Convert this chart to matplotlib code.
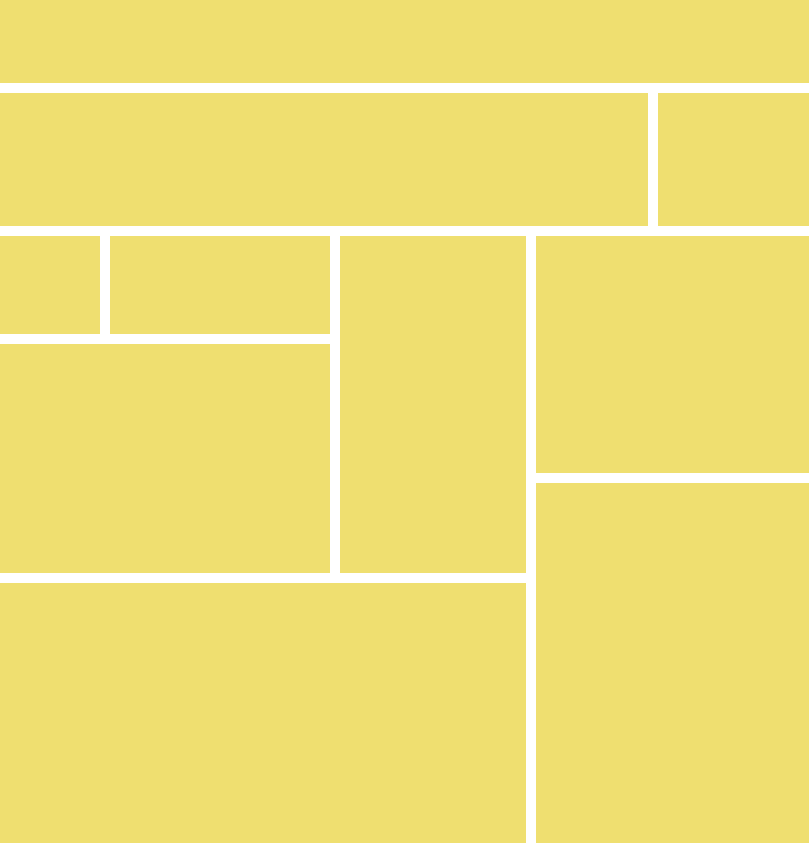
import matplotlib
matplotlib.use("Agg")
import matplotlib.pyplot as plt
from matplotlib.patches import Rectangle

# leaf values (thousands), read from the areas of the cells
top_row = [76]
second_row = [94, 23]
small_row = [12, 25]
big_left = [81]
middle = [68]
bottom_left = [145]
right_col = [70, 105]

FILL = "#EFDF70"
GAP = 10
W, H = 809, 843

# nested lists, split direction alternates (first level stacks along y)
tree = [
    top_row[0],
    second_row,
    [
        [
            [
                [small_row, big_left[0]],
                middle[0],
            ],
            bottom_left[0],
        ],
        right_col,
    ],
]


def total(node):
    if isinstance(node, list):
        return sum(total(c) for c in node)
    return node


def layout(node, x0, y0, x1, y1, along_y, out):
    if not isinstance(node, list):
        out.append((x0, y0, x1, y1))
        return
    s = total(node)
    pos = y0 if along_y else x0
    span = (y1 - y0) if along_y else (x1 - x0)
    for child in node:
        step = span * total(child) / s
        if along_y:
            layout(child, x0, pos, x1, pos + step, False, out)
        else:
            layout(child, pos, y0, pos + step, y1, True, out)
        pos += step


cells = []
layout(tree, -GAP / 2, -GAP / 2, W + GAP / 2, H + GAP / 2, True, cells)

fig = plt.figure(figsize=(W / 100, H / 100), dpi=100)
ax = fig.add_axes([0, 0, 1, 1])
for (x0, y0, x1, y1) in cells:
    ax.add_patch(Rectangle((x0 + GAP / 2, y0 + GAP / 2),
                           x1 - x0 - GAP, y1 - y0 - GAP,
                           facecolor=FILL, edgecolor="none"))
ax.set_xlim(0, W)
ax.set_ylim(H, 0)
ax.axis("off")
fig.savefig("out.png", dpi=100, facecolor="white")
